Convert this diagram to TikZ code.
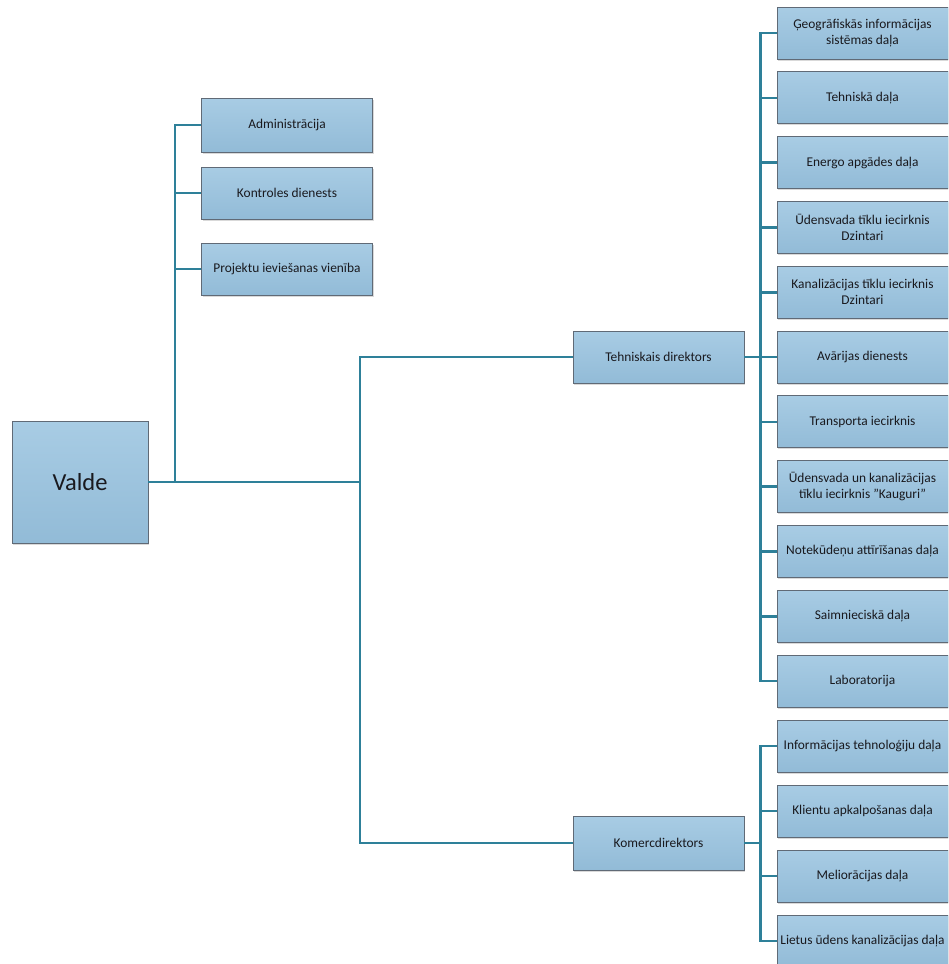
\documentclass[tikz,border=0pt]{standalone}
\usepackage{fontspec}
\setmainfont{Carlito}
\usetikzlibrary{shadows}

\definecolor{boxtop}{RGB}{168,204,228}
\definecolor{boxbot}{RGB}{146,187,215}
\definecolor{boxline}{RGB}{96,106,118}
\definecolor{wire}{RGB}{46,128,153}
\definecolor{ink}{RGB}{25,25,30}

\tikzset{
  unit/.style={draw=boxline, line width=0.8pt, top color=boxtop, bottom color=boxbot,
    minimum width=171pt, minimum height=52pt, inner sep=1pt, align=center,
    text=ink, font=\fontsize{13.4}{16}\selectfont,
    drop shadow={shadow xshift=1pt, shadow yshift=-1.5pt, opacity=0.3}},
  link/.style={draw=wire, line width=2.6pt}
}

\begin{document}
\begin{tikzpicture}[x=1pt, y=-1pt]
        \useasboundingbox (0,0) rectangle (948,964);
        \clip (0,0) rectangle (948,964);

        % Board
        \node[unit, minimum width=136pt, minimum height=122pt, font=\fontsize{24.5}{28}\selectfont] (valde) at (80,482) {Valde};

        % Units under the board
        \node[unit, minimum height=54pt] (admin) at (287,125) {Administrācija};
        \node[unit] (kontrole) at (287,193) {Kontroles dienests};
        \node[unit] (projekti) at (287,269) {Projektu ieviešanas vienība};

        % Directors
        \node[unit] (tehn) at (658.5,357) {Tehniskais direktors};
        \node[unit, minimum height=54pt] (komerc) at (658.5,843) {Komercdirektors};

        % Technical departments
        \foreach \t [count=\i from 0] in {
            {Ģeogrāfiskās informācijas\\sistēmas daļa},
            {Tehniskā daļa},
            {Energo apgādes daļa},
            {Ūdensvada tīklu iecirknis\\Dzintari},
            {Kanalizācijas tīklu iecirknis\\Dzintari},
            {Avārijas dienests},
            {Transporta iecirknis},
            {Ūdensvada un kanalizācijas\\tīklu iecirknis \symbol{34}Kauguri\symbol{34}},
            {Notekūdeņu attīrīšanas daļa},
            {Saimnieciskā daļa},
            {Laboratorija}}
          \node[unit] (td\i) at (862.5,{33+64.8*\i}) {\t};

        % Commercial departments
        \foreach \t [count=\i from 0] in {
            {Informācijas tehnoloģiju daļa},
            {Klientu apkalpošanas daļa},
            {Meliorācijas daļa},
            {Lietus ūdens kanalizācijas daļa}}
          \node[unit] (kd\i) at (862.5,{746+65*\i}) {\t};

        % Connectors
        \coordinate (lbus) at (175,482);
        \coordinate (trunk) at (360,482);
        \draw[link] (valde.east) -- (trunk);
        \draw[link] (admin.west) -| (lbus);
        \draw[link] (kontrole.west) -- (kontrole.west -| lbus);
        \draw[link] (projekti.west) -- (projekti.west -| lbus);
        \draw[link] (tehn.west) -| (trunk);
        \draw[link] (komerc.west) -| (trunk);

        \draw[link] (td0.west) -- ++(-16,0) |- (td10.west);
        \foreach \i in {1,...,9}
          \draw[link] (td\i.west) -- ++(-16,0);
        \draw[link] (tehn.east) -- ++(17,0);

        \draw[link] (kd0.west) -- ++(-16,0) |- (kd3.west);
        \foreach \i in {1,2}
          \draw[link] (kd\i.west) -- ++(-16,0);
        \draw[link] (komerc.east) -- ++(17,0);
\end{tikzpicture}
\end{document}
